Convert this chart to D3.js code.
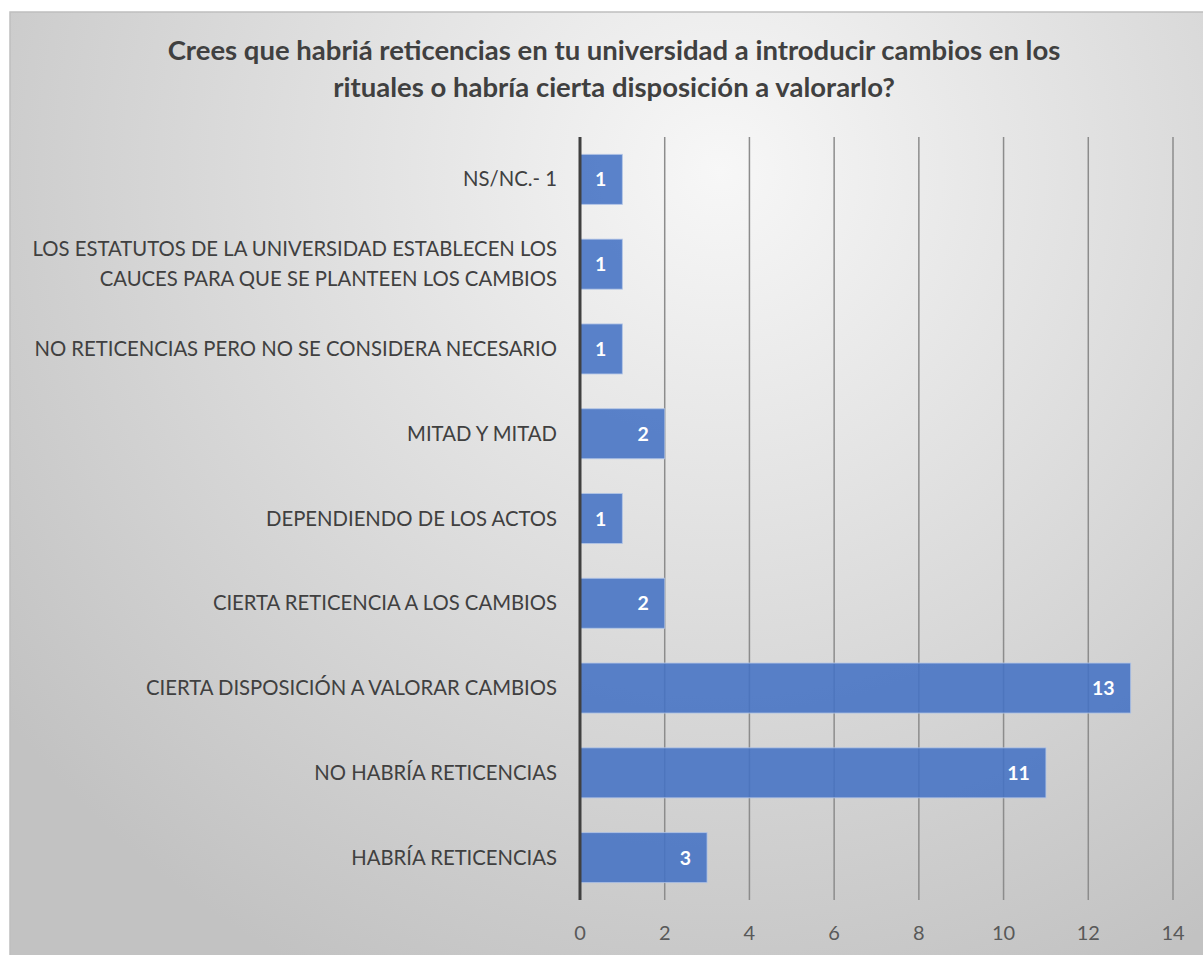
<!DOCTYPE html>
<html><head><meta charset="utf-8">
<script src="https://cdn.jsdelivr.net/npm/d3@7"></script>
<style>body{margin:0;background:#fff;} svg{display:block;}</style>
</head><body>
<svg id="chart" width="1203" height="955"></svg>
<script>
const categories = [
  ["NS/NC.- 1"],
  ["LOS ESTATUTOS DE LA UNIVERSIDAD ESTABLECEN LOS", "CAUCES PARA QUE SE PLANTEEN LOS CAMBIOS"],
  ["NO RETICENCIAS PERO NO SE CONSIDERA NECESARIO"],
  ["MITAD Y MITAD"],
  ["DEPENDIENDO DE LOS ACTOS"],
  ["CIERTA RETICENCIA A LOS CAMBIOS"],
  ["CIERTA DISPOSICIÓN A VALORAR CAMBIOS"],
  ["NO HABRÍA RETICENCIAS"],
  ["HABRÍA RETICENCIAS"]
];
const values = [1, 1, 1, 2, 1, 2, 13, 11, 3];
const xTicks = [0, 2, 4, 6, 8, 10, 12, 14];
const titleLines = ["Crees que habriá reticencias en tu universidad a introducir cambios en los",
                    "rituales o habría cierta disposición a valorarlo?"];

const svg = d3.select("#chart");
const defs = svg.append("defs");
const grad = defs.append("radialGradient").attr("id","bg")
  .attr("gradientUnits","userSpaceOnUse").attr("cx",720).attr("cy",170).attr("r",900);
grad.append("stop").attr("offset","0").attr("stop-color","#f7f7f7");
grad.append("stop").attr("offset","1").attr("stop-color","#c2c2c2");

svg.append("rect").attr("x",10).attr("y",12).attr("width",1200).attr("height",950)
  .attr("fill","url(#bg)").attr("stroke","#bfbfbf").attr("stroke-width",1.5);

const font = "Lato, 'Open Sans', sans-serif";
svg.append("g").selectAll("text").data(titleLines).join("text")
  .attr("x",614).attr("y",(d,i)=>60+i*37).attr("text-anchor","middle")
  .attr("font-family",font).attr("font-weight","bold").attr("font-size",27.5)
  .attr("fill","#404040").text(d=>d);

const x = d3.scaleLinear().domain([0,14]).range([580,1173]);
const ids = categories.map((c,i)=>i);
const y = d3.scaleBand().domain(ids).range([137,900]).paddingInner(0.41).paddingOuter(0.205);

// gridlines
svg.append("g").selectAll("line").data(xTicks.filter(t=>t>0)).join("line")
  .attr("x1",d=>x(d)).attr("x2",d=>x(d)).attr("y1",137).attr("y2",900)
  .attr("stroke","#8c8c8c").attr("stroke-width",1.5);

// bars
svg.append("g").selectAll("rect").data(values).join("rect")
  .attr("x",x(0)).attr("y",(d,i)=>y(i)).attr("width",d=>x(d)-x(0)).attr("height",y.bandwidth())
  .attr("fill","#4472c4").attr("fill-opacity",0.88)
  .attr("stroke","#b4c7e7").attr("stroke-width",1).attr("stroke-opacity",0.8);

// bar labels
svg.append("g").selectAll("text").data(values).join("text")
  .attr("x",d=>x(d)-16).attr("y",(d,i)=>y(i)+y.bandwidth()/2+7)
  .attr("text-anchor","end").attr("font-family",font).attr("font-weight","bold")
  .attr("font-size",19.5).attr("fill","#fff").text(d=>d);

// axis line
svg.append("line").attr("x1",x(0)).attr("x2",x(0)).attr("y1",137).attr("y2",900)
  .attr("stroke","#404040").attr("stroke-width",3);

// category labels
const cl = svg.append("g").selectAll("text").data(categories).join("text")
  .attr("text-anchor","end").attr("font-family",font).attr("font-size",20.3).attr("fill","#404040");
cl.each(function(d,i){
  const t = d3.select(this);
  const cy = y(i)+y.bandwidth()/2;
  const lh = 30;
  d.forEach((line,j)=>{
    t.append("tspan").attr("x",557).attr("y",cy+7+(j-(d.length-1)/2)*lh).text(line);
  });
});

// x tick labels
svg.append("g").selectAll("text").data(xTicks).join("text")
  .attr("x",d=>x(d)).attr("y",940).attr("text-anchor","middle")
  .attr("font-family",font).attr("font-size",20).attr("fill","#595959").text(d=>d);
</script>
</body></html>
